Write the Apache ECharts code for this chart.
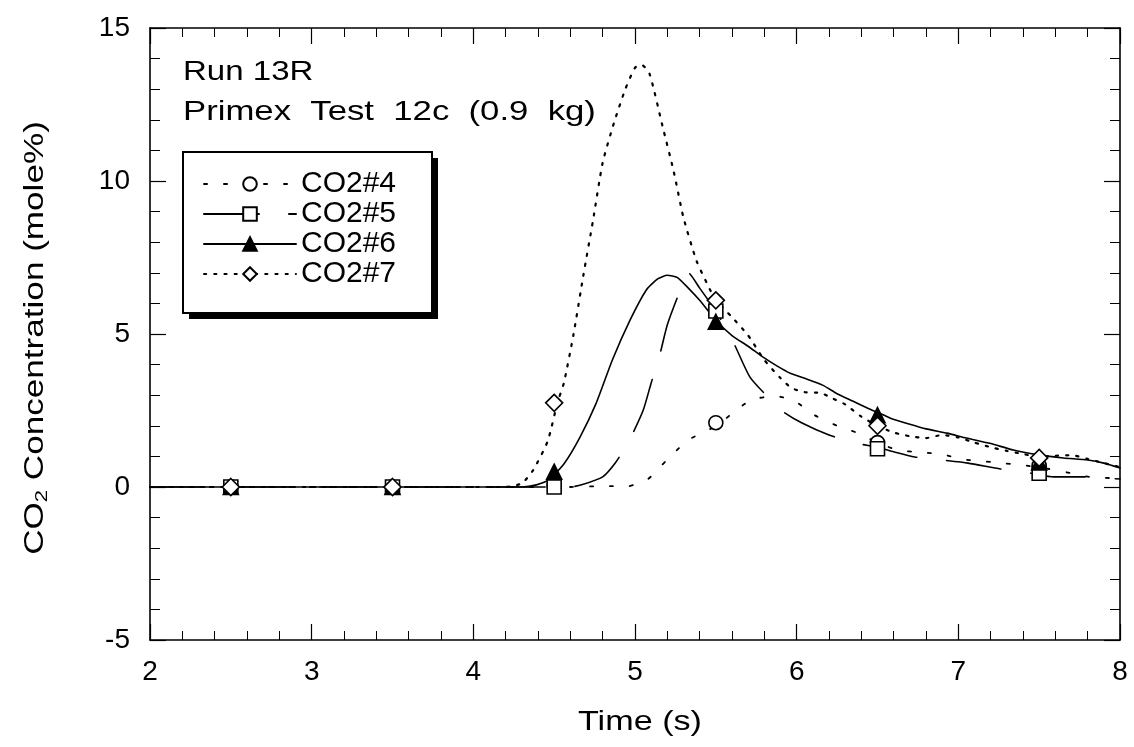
<!DOCTYPE html>
<html>
<head>
<meta charset="utf-8">
<script src="https://cdn.jsdelivr.net/npm/echarts@6/dist/echarts.min.js"></script>
<style>
  html, body { margin: 0; padding: 0; background: #fff; }
  #chart { width: 1134px; height: 747px; }
</style>
</head>
<body>
<div id="chart"></div>
<script>
// Continuous traces for each CO2 analyser: time (s) and concentration (mole%)
const t4 = [2, 4.6, 4.81, 4.95, 5.08, 5.2, 5.33, 5.45, 5.53, 5.6, 5.72, 5.87, 5.99, 6.11, 6.25, 6.38, 6.5, 6.63, 6.76, 6.9, 7.03, 7.16, 7.29, 7.42, 7.55, 7.69, 7.81, 8.0];
const c4 = [0, 0, 0.03, 0.02, 0.26, 0.9, 1.54, 1.85, 2.1, 2.4, 2.85, 2.97, 2.8, 2.35, 2.0, 1.76, 1.45, 1.2, 1.14, 1.07, 0.9, 0.84, 0.77, 0.7, 0.6, 0.46, 0.33, 0.28];

const t5 = [2, 4.6, 4.67, 4.8, 4.88, 4.96, 5.05, 5.1, 5.15, 5.2, 5.27, 5.33, 5.4, 5.5, 5.56, 5.62, 5.71, 5.82, 5.92, 6.03, 6.2, 6.35, 6.5, 6.6, 6.73, 6.9, 7.06, 7.26, 7.45, 7.59, 7.78, 8.0];
const c5 = [0, 0, 0.07, 0.33, 0.8, 1.47, 2.5, 3.4, 4.25, 5.3, 6.3, 7.0, 6.5, 5.75, 5.2, 4.6, 3.6, 2.95, 2.45, 2.1, 1.7, 1.45, 1.3, 1.15, 0.98, 0.88, 0.78, 0.59, 0.45, 0.33, 0.33, 0.26];

const t6 = [2, 4.3, 4.39, 4.47, 4.56, 4.66, 4.76, 4.86, 4.97, 5.07, 5.14, 5.2, 5.26, 5.33, 5.4, 5.5, 5.6, 5.7, 5.79, 5.88, 5.96, 6.05, 6.16, 6.25, 6.35, 6.45, 6.51, 6.58, 6.7, 6.8, 6.93, 7.05, 7.2, 7.34, 7.5, 7.65, 7.8, 7.9, 8.0];
const c6 = [0, 0, 0.07, 0.25, 0.75, 1.63, 2.74, 4.15, 5.46, 6.44, 6.8, 6.92, 6.85, 6.5, 6.1, 5.45, 4.95, 4.6, 4.25, 3.95, 3.72, 3.55, 3.33, 3.05, 2.8, 2.55, 2.42, 2.25, 2.05, 1.9, 1.76, 1.6, 1.42, 1.21, 1.05, 0.95, 0.88, 0.78, 0.62];

const t7 = [2, 4.2, 4.3, 4.37, 4.46, 4.52, 4.56, 4.62, 4.68, 4.74, 4.8, 4.87, 4.94, 5.0, 5.04, 5.09, 5.17, 5.24, 5.3, 5.38, 5.45, 5.5, 5.6, 5.7, 5.8, 5.9, 5.97, 6.05, 6.15, 6.22, 6.3, 6.4, 6.5, 6.6, 6.7, 6.8, 6.9, 7.0, 7.1, 7.2, 7.3, 7.4, 7.5, 7.6, 7.7, 7.8, 7.9, 8.0];
const c7 = [0, 0, 0.12, 0.55, 1.5, 2.75, 3.4, 5.0, 6.9, 8.7, 10.6, 11.9, 13.0, 13.7, 13.8, 13.5, 11.8, 10.3, 8.8, 7.4, 6.6, 6.1, 5.55, 4.95, 4.15, 3.56, 3.23, 3.1, 3.07, 2.9, 2.7, 2.3, 2.0, 1.78, 1.66, 1.6, 1.7, 1.62, 1.45, 1.3, 1.18, 1.08, 0.98, 1.02, 1.04, 0.92, 0.78, 0.65];

// Sampled values marked with symbols once per second
const markTimes = [2.5, 3.5, 4.5, 5.5, 6.5, 7.5];
const m4 = [0, 0, 0.05, 2.1, 1.45, 0.7];
const m5 = [0, 0, 0, 5.75, 1.25, 0.45];
const m6 = [0, 0, 0.5, 5.4, 2.35, 0.8];
const m7 = [0, 0, 2.75, 6.1, 2.0, 0.95];

const seriesNames = ['CO2#4', 'CO2#5', 'CO2#6', 'CO2#7'];
const xTicks = { min: 2, max: 8, interval: 1 };
const yTicks = { min: -5, max: 15, interval: 5 };

const FONT = '"Liberation Sans", Arial, Helvetica, sans-serif';
const pairs = (xs, ys) => xs.map((x, i) => [x, ys[i]]);

const traces = [
  { name: seriesNames[0], t: t4, c: c4, m: m4, dash: [3, 17], width: 1.8, symbol: 'circle', size: 14, fill: '#fff' },
  { name: seriesNames[1], t: t5, c: c5, m: m5, dash: [55, 30], width: 1.6, symbol: 'rect', size: 14, fill: '#fff' },
  { name: seriesNames[2], t: t6, c: c6, m: m6, dash: 'solid', width: 1.6, symbol: 'triangle', size: 15, fill: '#000' },
  { name: seriesNames[3], t: t7, c: c7, m: m7, dash: [2.2, 8], width: 2.2, symbol: 'diamond', size: 17, fill: '#fff' }
];

const lineSeries = traces.map(s => ({
  name: s.name,
  type: 'line',
  data: pairs(s.t, s.c),
  smooth: 0.2,
  showSymbol: false,
  symbol: s.symbol,
  itemStyle: { color: s.fill, borderColor: '#000', borderWidth: 1.5 },
  lineStyle: { color: '#000', width: s.width, type: s.dash, cap: 'round' },
  emphasis: { disabled: true },
  animation: false,
  z: 2
}));

const markerSeries = traces.map(s => ({
  name: s.name,
  type: 'scatter',
  data: pairs(markTimes, s.m),
  symbol: s.symbol,
  symbolSize: s.size,
  itemStyle: { color: s.fill, borderColor: '#000', borderWidth: 1.6, opacity: 1 },
  emphasis: { disabled: true },
  animation: false,
  z: 3
}));

function xAxisDef(position, showLabel) {
  return {
    type: 'value', position, ...xTicks,
    axisLine: { onZero: false, lineStyle: { color: '#000', width: 1.6 } },
    axisTick: { inside: true, length: 16, lineStyle: { color: '#000', width: 1.2 } },
    minorTick: { show: true, splitNumber: 5, length: 9, lineStyle: { color: '#000', width: 1 } },
    splitLine: { show: false },
    axisLabel: { show: showLabel, fontSize: 28, color: '#000', fontFamily: FONT, margin: 18 }
  };
}
function yAxisDef(position, showLabel) {
  return {
    type: 'value', position, ...yTicks,
    axisLine: { onZero: false, lineStyle: { color: '#000', width: 1.6 } },
    axisTick: { inside: true, length: 16, lineStyle: { color: '#000', width: 1.2 } },
    minorTick: { show: true, splitNumber: 5, length: 10, lineStyle: { color: '#000', width: 1 } },
    splitLine: { show: false },
    axisLabel: { show: showLabel, fontSize: 28, color: '#000', fontFamily: FONT, margin: 20 }
  };
}

// Legend frame with a solid drop shadow
const legendBox = { x: 183, y: 152, width: 249, height: 161, shadow: 6 };

const chart = echarts.init(document.getElementById('chart'), null, { renderer: 'canvas' });
chart.setOption({
  backgroundColor: '#fff',
  animation: false,
  grid: { left: 150, right: 14, top: 28, bottom: 107, containLabel: false },
  xAxis: [xAxisDef('bottom', true), xAxisDef('top', false)],
  yAxis: [yAxisDef('left', true), yAxisDef('right', false)],
  legend: {
    data: seriesNames,
    orient: 'vertical',
    left: 183, top: 153,
    itemWidth: 92, itemHeight: 17, itemGap: 0,
    padding: [16, 20, 20, 20],
    selectedMode: false,
    z: 10,
    textStyle: { fontSize: 30, lineHeight: 30, color: '#000', fontFamily: FONT }
  },
  graphic: [
    { type: 'rect', z: 5, silent: true,
      shape: { x: legendBox.x + legendBox.shadow, y: legendBox.y + legendBox.shadow, width: legendBox.width, height: legendBox.height },
      style: { fill: '#000' } },
    { type: 'rect', z: 6, silent: true,
      shape: { x: legendBox.x, y: legendBox.y, width: legendBox.width, height: legendBox.height },
      style: { fill: '#fff', stroke: '#000', lineWidth: 2 } },
    { type: 'text', left: 183, top: 58, scaleX: 1.18,
      style: { text: 'Run 13R', fontSize: 28, fontFamily: FONT, fill: '#000' } },
    { type: 'text', left: 183, top: 98, scaleX: 1.24,
      style: { text: 'Primex  Test  12c  (0.9  kg)', fontSize: 28, fontFamily: FONT, fill: '#000' } },
    { type: 'text', x: 640, y: 722, scaleX: 1.22,
      style: { text: 'Time (s)', fontSize: 28, fontFamily: FONT, fill: '#000', align: 'center', verticalAlign: 'middle' } },
    { type: 'text', x: 36, y: 338, rotation: Math.PI / 2, scaleX: 1.3,
      style: {
        text: '{a|CO}{s|2}{a| Concentration (mole%)}',
        align: 'center', verticalAlign: 'middle', fill: '#000',
        rich: {
          a: { fontSize: 27, fontFamily: FONT, fill: '#000', lineHeight: 30 },
          s: { fontSize: 17, fontFamily: FONT, fill: '#000', verticalAlign: 'bottom', lineHeight: 17, padding: [12, 0, 0, 0] }
        }
      } }
  ],
  series: [...lineSeries, ...markerSeries]
});
</script>
</body>
</html>
